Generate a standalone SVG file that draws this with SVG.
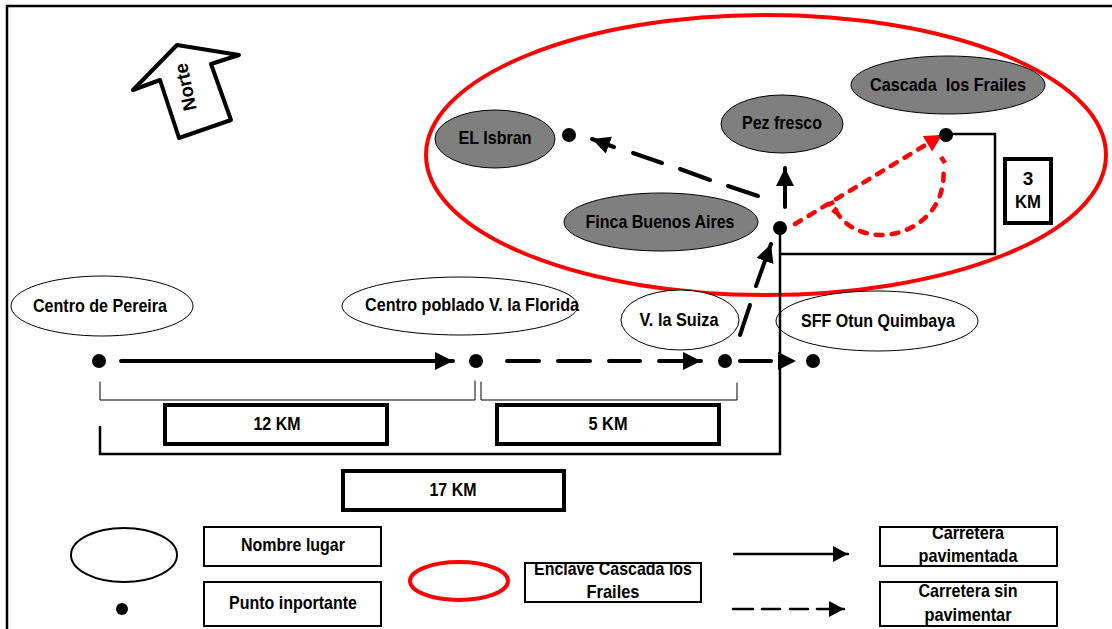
<svg xmlns="http://www.w3.org/2000/svg" width="1112" height="629" viewBox="0 0 1112 629">
<defs>
<marker id="ah" markerUnits="userSpaceOnUse" markerWidth="20" markerHeight="20" refX="18" refY="9" orient="auto"><path d="M0 0L18 9L0 18Z" fill="#000"/></marker>
<marker id="ahl" markerUnits="userSpaceOnUse" markerWidth="20" markerHeight="18" refX="15" refY="8" orient="auto"><path d="M0 0L15 8L0 16Z" fill="#000"/></marker>
<marker id="ahr" markerUnits="userSpaceOnUse" markerWidth="20" markerHeight="20" refX="17" refY="9" orient="auto"><path d="M0 0L17 9L0 18Z" fill="#f00"/></marker>
</defs>
<style>
text{font-family:"Liberation Sans",Arial,sans-serif;font-weight:bold;fill:#000;text-anchor:middle;font-size:19px}
.w{fill:#fff;stroke:#000;stroke-width:1}
.g{fill:#7f7f7f;stroke:#000;stroke-width:1}
.b{fill:#fff;stroke:#000;stroke-width:4}
.l{fill:#fff;stroke:#000;stroke-width:2}
.c{fill:none;stroke:#000;stroke-linecap:round}
.r{fill:none;stroke:#f00;stroke-width:4.5;stroke-dasharray:7 9;stroke-linecap:round}
.d{fill:#000}
</style>
<rect width="1112" height="629" fill="#fff"/>
<path d="M7 629V6H1112" fill="none" stroke="#000" stroke-width="2.5"/>
<g id="enclave"><ellipse cx="766" cy="155" rx="340" ry="140" fill="none" stroke="#f00" stroke-width="4"/></g>
<g id="norte">
<path d="M133 90L177 45L239 55L211 64L231 120L179 138L160 80Z" fill="#fff" stroke="#000" stroke-width="4" stroke-linejoin="round"/>
<text transform="translate(186 87) rotate(-102)" y="6" textLength="48" lengthAdjust="spacingAndGlyphs">Norte</text>
</g>
<g id="centro-pereira"><ellipse class="w" cx="102" cy="306" rx="91" ry="30"/><text x="100" y="312" textLength="134" lengthAdjust="spacingAndGlyphs">Centro de Pereira</text></g>
<g id="centro-poblado"><ellipse class="w" cx="460" cy="306" rx="118" ry="29"/><text x="472" y="311" textLength="214" lengthAdjust="spacingAndGlyphs">Centro poblado V. la Florida</text></g>
<g id="suiza"><ellipse class="w" cx="680" cy="320" rx="59" ry="30"/><text x="679" y="326" textLength="79" lengthAdjust="spacingAndGlyphs">V. la Suiza</text></g>
<g id="sff"><ellipse class="w" cx="877" cy="321" rx="101" ry="30"/><text x="878" y="327" textLength="154" lengthAdjust="spacingAndGlyphs">SFF Otun Quimbaya</text></g>
<g id="isbran"><ellipse class="g" cx="495" cy="139" rx="60" ry="29"/><text x="495" y="144" textLength="73" lengthAdjust="spacingAndGlyphs">EL Isbran</text></g>
<g id="pez"><ellipse class="g" cx="782" cy="124" rx="61" ry="29"/><text x="782" y="129" textLength="80" lengthAdjust="spacingAndGlyphs">Pez fresco</text></g>
<g id="cascada"><ellipse class="g" cx="948" cy="85" rx="97" ry="29"/><text x="948" y="91" textLength="156" lengthAdjust="spacingAndGlyphs" xml:space="preserve">Cascada  los Frailes</text></g>
<g id="finca"><ellipse class="g" cx="661" cy="222" rx="97" ry="29"/><text x="660" y="228" textLength="149" lengthAdjust="spacingAndGlyphs">Finca Buenos Aires</text></g>
<g id="connectors">
<path class="c" stroke-width="4" marker-end="url(#ah)" d="M121 361H453"/>
<path class="c" stroke-width="4" marker-end="url(#ah)" d="M507 361H539M558 361H590M609 361H640M659 361H701"/>
<path class="c" stroke-width="4" d="M740 361H771"/>
<path d="M778 352L796 361L778 370Z" fill="#000"/>
<path class="c" stroke-width="4" d="M740 335L750 305"/>
<path class="c" stroke-width="4" marker-end="url(#ah)" d="M756 286L771 244"/>
<path class="c" stroke-width="4" marker-end="url(#ah)" d="M785 207V168"/>
<path class="c" stroke-width="4" marker-end="url(#ah)" d="M758 196L728 186M710 180L680 169M662 163L633 153M614 147L592 139"/>
<path class="r" marker-end="url(#ahr)" d="M795 224L942 135"/>
<path class="r" d="M836 211C846 228 865 236 885 235C920 232 948 205 943 165"/>
<path d="M828 205L834 202M833 213L837 208M941 157L945 163" fill="none" stroke="#f00" stroke-width="4.5"/>
<path class="c" stroke-width="2.5" d="M946 134H995V254H780M780 228V454H100V427" stroke-linecap="butt"/>
<path class="c" stroke-width="1" d="M100 382V400H475V381M481 382V400H737V383" stroke-linecap="butt"/>
</g>
<g id="punto-1"><circle class="d" cx="99" cy="361" r="7"/></g>
<g id="punto-2"><circle class="d" cx="476" cy="361" r="7"/></g>
<g id="punto-3"><circle class="d" cx="725" cy="361" r="7"/></g>
<g id="punto-4"><circle class="d" cx="813" cy="361" r="7"/></g>
<g id="punto-5"><circle class="d" cx="780" cy="228" r="7"/></g>
<g id="punto-6"><circle class="d" cx="946" cy="135" r="7"/></g>
<g id="punto-7"><circle class="d" cx="569" cy="135" r="7"/></g>
<g id="km12"><rect class="b" x="165" y="405" width="222" height="39"/><text x="277" y="430" textLength="47" lengthAdjust="spacingAndGlyphs">12 KM</text></g>
<g id="km5"><rect class="b" x="497" y="405" width="222" height="39"/><text x="608" y="430" textLength="39" lengthAdjust="spacingAndGlyphs">5 KM</text></g>
<g id="km17"><rect class="b" x="343" y="471" width="221" height="39"/><text x="453" y="496" textLength="47" lengthAdjust="spacingAndGlyphs">17 KM</text></g>
<g id="km3"><rect class="b" x="1005" y="159" width="46" height="64"/><text x="1028" y="185">3</text><text x="1028" y="208" textLength="26" lengthAdjust="spacingAndGlyphs">KM</text></g>
<g id="leyenda-lugar"><ellipse cx="124" cy="555" rx="53" ry="27" fill="#fff" stroke="#000" stroke-width="2"/><rect class="l" x="204" y="527" width="177" height="39"/><text x="293" y="551" textLength="104" lengthAdjust="spacingAndGlyphs">Nombre lugar</text></g>
<g id="leyenda-punto"><circle class="d" cx="122" cy="609" r="6"/><rect class="l" x="204" y="582" width="177" height="44"/><text x="293" y="609" textLength="128" lengthAdjust="spacingAndGlyphs">Punto inportante</text></g>
<g id="leyenda-enclave"><ellipse cx="459" cy="581" rx="49" ry="19" fill="#fff" stroke="#f00" stroke-width="4"/><rect class="l" x="525" y="563" width="176" height="39"/><text x="613" y="575" textLength="158" lengthAdjust="spacingAndGlyphs">Enclave Cascada los</text><text x="613" y="598" textLength="53" lengthAdjust="spacingAndGlyphs">Frailes</text></g>
<g id="leyenda-pav"><path class="c" stroke-width="2.5" marker-end="url(#ahl)" d="M734 554H848" stroke-linecap="butt"/><rect class="l" x="880" y="527" width="177" height="39"/><text x="968" y="539" textLength="72" lengthAdjust="spacingAndGlyphs">Carretera</text><text x="968" y="562" textLength="99" lengthAdjust="spacingAndGlyphs">pavimentada</text></g>
<g id="leyenda-sinpav"><path class="c" stroke-width="2.5" marker-end="url(#ahl)" stroke-linecap="butt" d="M733 609H753M762 609H780M790 609H808M817 609H844"/><rect class="l" x="880" y="582" width="177" height="44"/><text x="968" y="597" textLength="99" lengthAdjust="spacingAndGlyphs">Carretera sin</text><text x="968" y="621" textLength="87" lengthAdjust="spacingAndGlyphs">pavimentar</text></g>
</svg>
